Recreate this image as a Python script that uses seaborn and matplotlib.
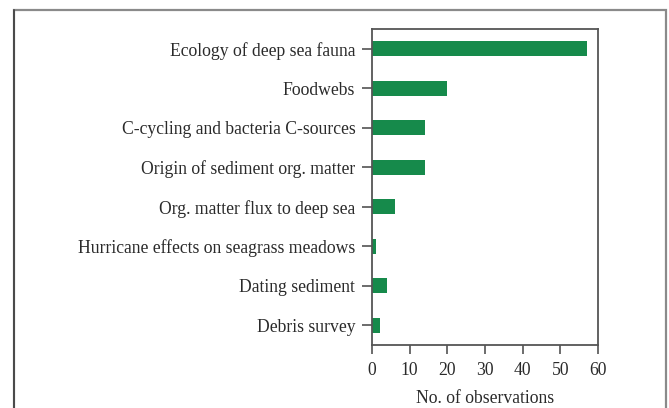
import matplotlib
matplotlib.use("Agg")
import matplotlib.pyplot as plt
from matplotlib.patches import Rectangle
from matplotlib.lines import Line2D
import seaborn as sns
import pandas as pd

topics = [
    "Ecology of deep sea fauna",
    "Foodwebs",
    "C-cycling and bacteria C-sources",
    "Origin of sediment org. matter",
    "Org. matter flux to deep sea",
    "Hurricane effects on seagrass meadows",
    "Dating sediment",
    "Debris survey",
]
observations = [57, 20, 14, 14, 6, 1, 4, 2]
x_ticks = [0, 10, 20, 30, 40, 50, 60]

df = pd.DataFrame({"topic": topics, "n": observations})

sns.set_theme(style="white")
plt.rcParams["font.family"] = ["Liberation Serif", "DejaVu Serif"]

W, H = 669, 408
fig = plt.figure(figsize=(W / 100, H / 100), dpi=100)
ax = fig.add_axes([372 / W, 1 - 345 / H, (598 - 372) / W, (345 - 29) / H])

sns.barplot(data=df, y="topic", x="n", orient="h", color="#168a4b",
            saturation=1, width=0.37, ax=ax, linewidth=0)

ax.set_xlim(0, 60)
ax.set_ylim(len(topics) - 0.5, -0.5)
ax.set_xticks(x_ticks)
ax.set_xticklabels([str(t) for t in x_ticks])
ax.set_ylabel("")
ax.set_xlabel("No. of observations", fontsize=12.7, color="#2a2a2a", labelpad=7.5)

for s in ax.spines.values():
    s.set_visible(True)
    s.set_color("#555555")
    s.set_linewidth(1.3)

ax.tick_params(axis="both", which="major", direction="out", colors="#444444",
               labelcolor="#2a2a2a", labelsize=12.7, width=1.1)
ax.tick_params(axis="y", length=7, pad=5)
ax.tick_params(axis="x", length=6.5, pad=6)
ax.tick_params(left=True, bottom=True)

# outer frame around the panel
fig.patches.append(Rectangle((14 / W, -0.1), (666 - 14) / W, 1.1 - 10 / H,
                             transform=fig.transFigure, fill=False,
                             edgecolor="#8a8a8a", linewidth=1.6))
fig.lines.append(Line2D([14 / W, 14 / W], [0, 1 - 10 / H],
                        transform=fig.transFigure, color="#4a4a4a", linewidth=1.4))

fig.savefig("out.png", dpi=100)
